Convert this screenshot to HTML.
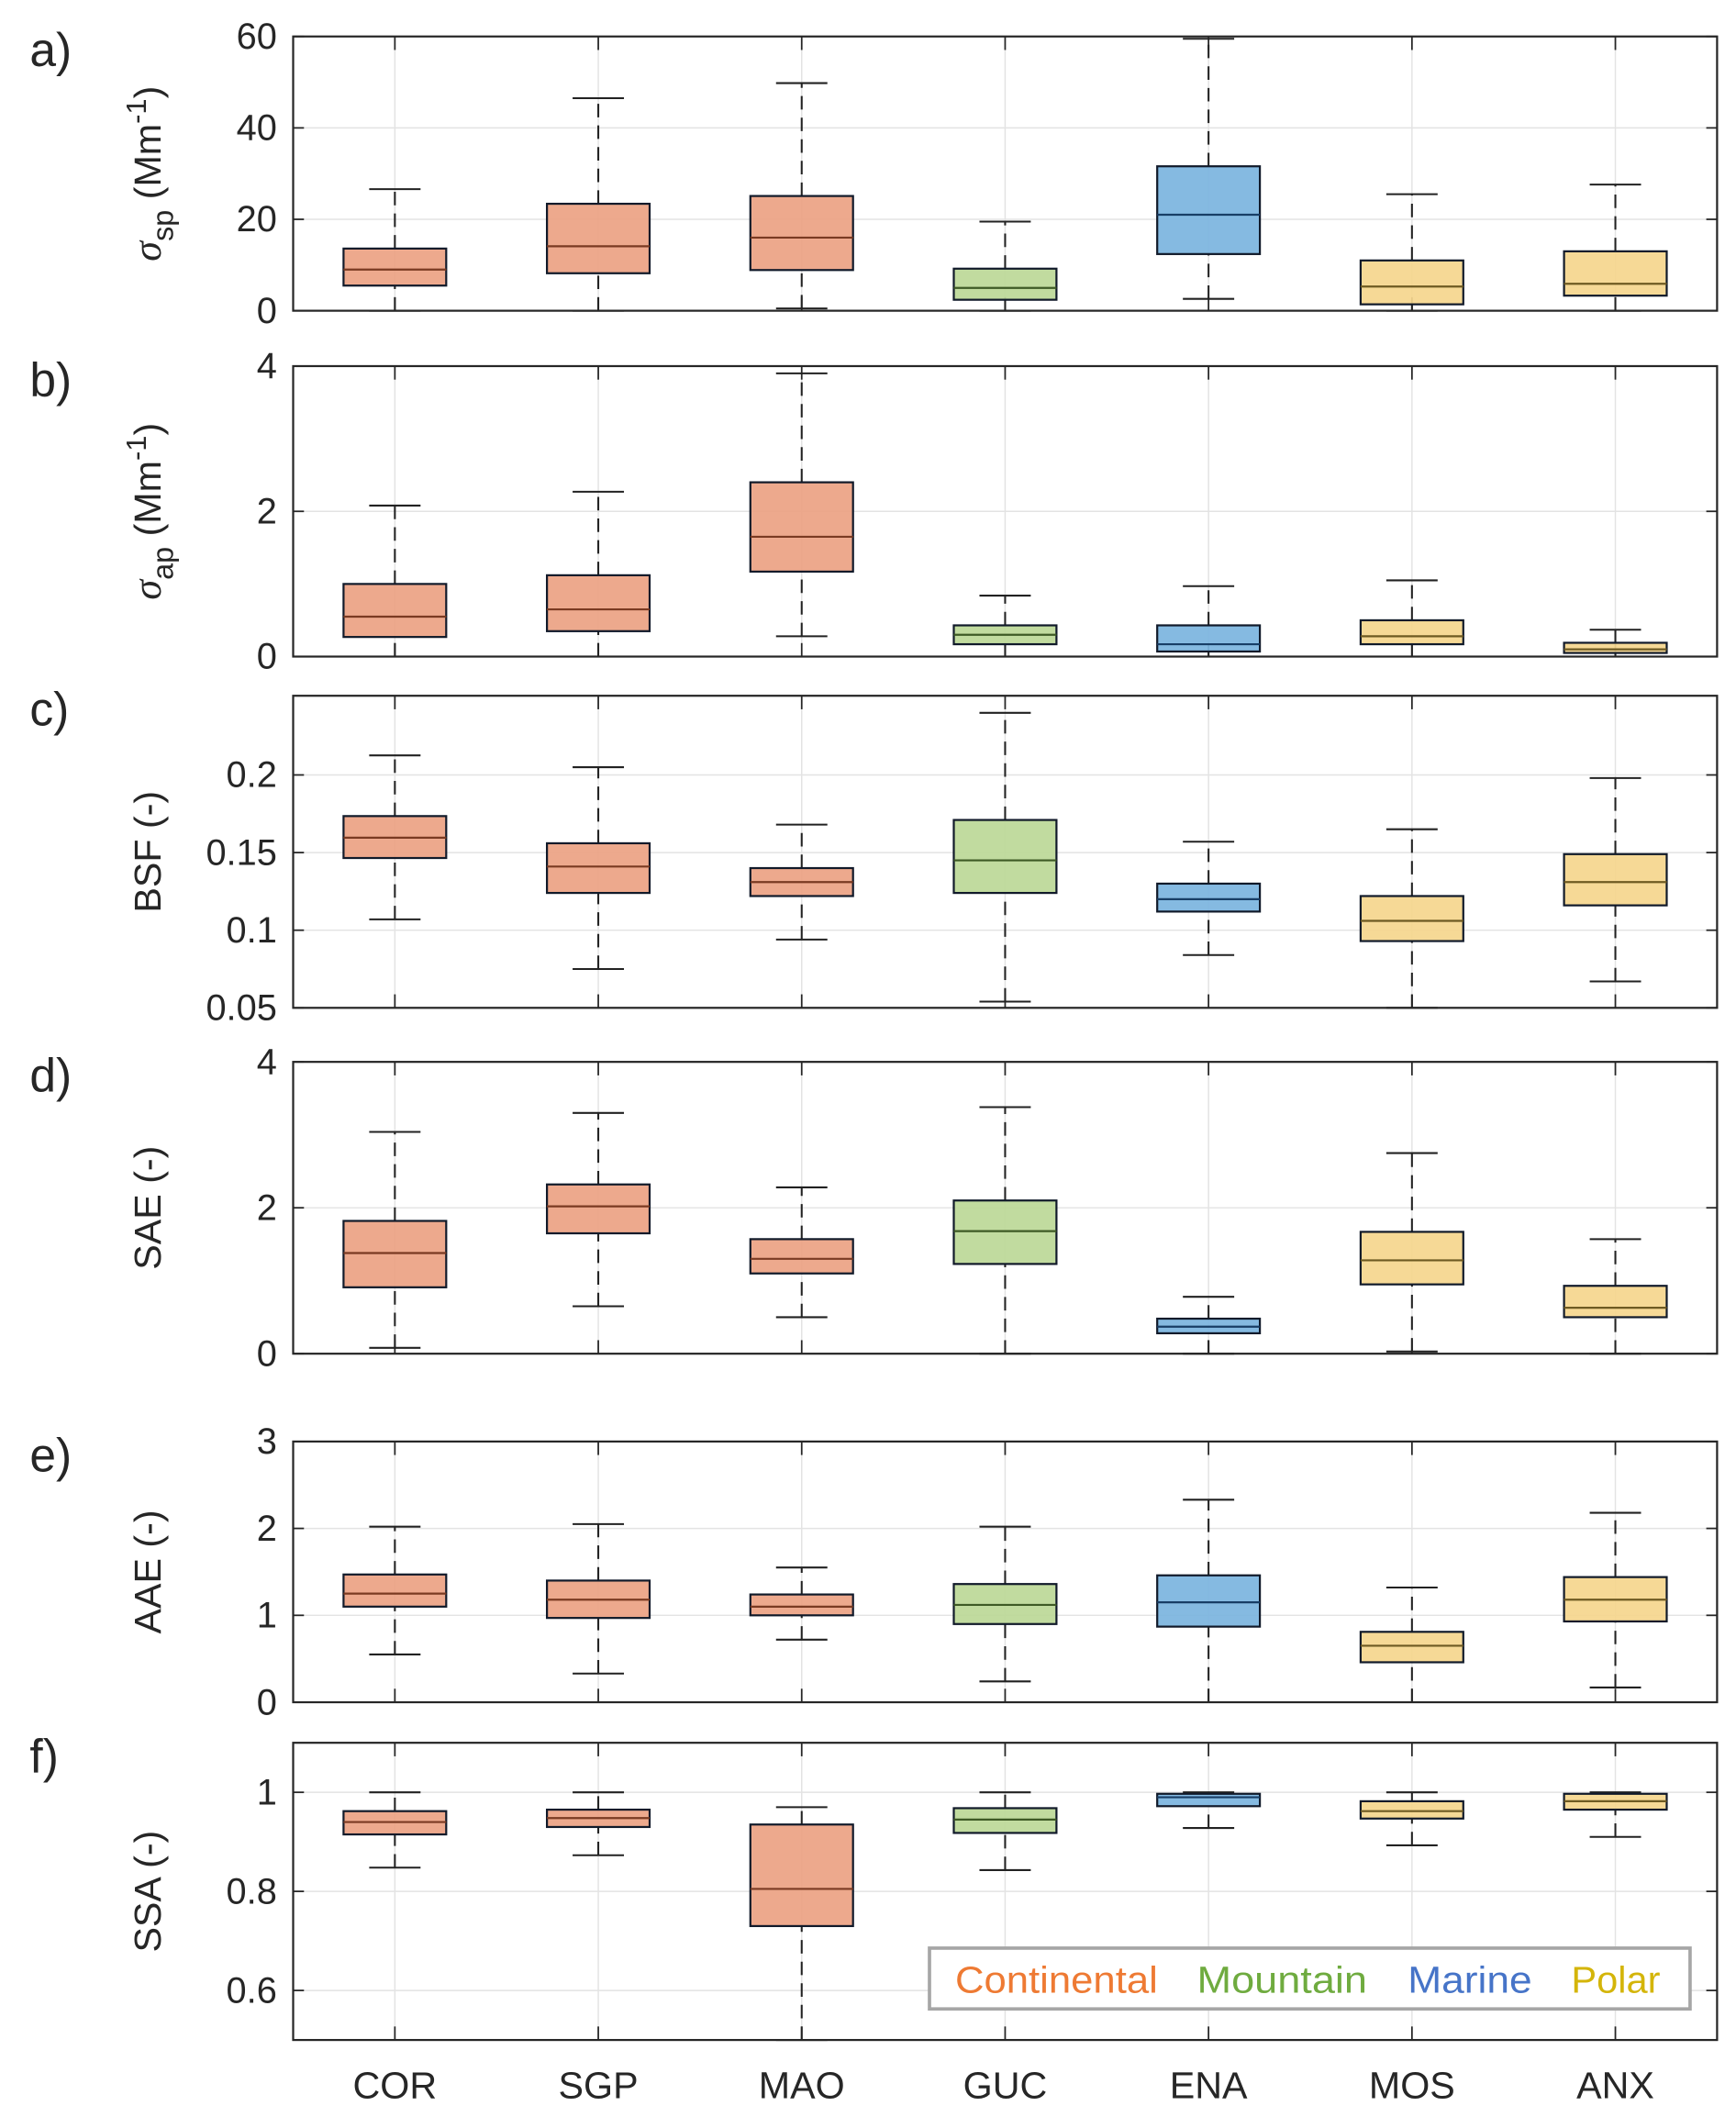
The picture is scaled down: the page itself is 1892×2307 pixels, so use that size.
<!DOCTYPE html>
<html><head><meta charset="utf-8"><style>
html,body{margin:0;padding:0;background:#fff}
svg{display:block}
text{font-family:"Liberation Sans",sans-serif;fill:#262626}
</style></head><body>
<svg id="chart" xmlns="http://www.w3.org/2000/svg" width="1892" height="2307" viewBox="0 0 1285 1567" preserveAspectRatio="none"></svg>
<script>
const categories = ["COR","SGP","MAO","GUC","ENA","MOS","ANX"];
const groups = ["Continental","Continental","Continental","Mountain","Marine","Polar","Polar"];
// each stat array: [whiskerLow, q1, median, q3, whiskerHigh] per category
const sspStats = [[0,5.5,9,13.6,26.6],[0,8.2,14.1,23.4,46.5],[0.5,8.9,16,25.1,49.8],[0,2.4,5,9.2,19.5],[2.6,12.4,21,31.6,59.5],[0,1.4,5.3,11,25.5],[0,3.3,5.9,13,27.6]];
const sapStats = [[0,0.27,0.55,1.0,2.08],[0,0.35,0.65,1.12,2.27],[0.28,1.17,1.65,2.4,3.9],[0,0.17,0.3,0.43,0.84],[0,0.07,0.17,0.43,0.97],[0,0.17,0.28,0.5,1.05],[0,0.05,0.1,0.19,0.37]];
const bsfStats = [[0.107,0.1465,0.1596,0.1735,0.2126],[0.075,0.124,0.141,0.156,0.205],[0.094,0.122,0.131,0.140,0.168],[0.054,0.124,0.145,0.171,0.240],[0.084,0.112,0.120,0.130,0.157],[0.05,0.093,0.106,0.122,0.165],[0.067,0.116,0.131,0.149,0.198]];
const saeStats = [[0.08,0.91,1.38,1.82,3.04],[0.65,1.65,2.02,2.32,3.3],[0.5,1.1,1.3,1.57,2.28],[0,1.23,1.68,2.1,3.38],[0,0.28,0.37,0.48,0.78],[0.03,0.95,1.28,1.67,2.75],[0,0.5,0.63,0.93,1.57]];
const aaeStats = [[0.55,1.1,1.25,1.47,2.02],[0.33,0.97,1.18,1.4,2.05],[0.72,1.0,1.1,1.24,1.55],[0.24,0.9,1.12,1.36,2.02],[0,0.87,1.15,1.46,2.33],[0,0.46,0.65,0.81,1.32],[0.17,0.93,1.18,1.44,2.18]];
const ssaStats = [[0.848,0.915,0.94,0.962,1.0],[0.873,0.93,0.948,0.965,1.0],[0.5,0.73,0.805,0.935,0.97],[0.843,0.918,0.945,0.968,1.0],[0.928,0.972,0.99,0.997,1.0],[0.893,0.947,0.962,0.982,1.0],[0.91,0.965,0.982,0.997,1.0]];
const sspTicks = [0,20,40,60];
const sapTicks = [0,2,4];
const bsfTicks = [0.05,0.1,0.15,0.2];
const saeTicks = [0,2,4];
const aaeTicks = [0,1,2,3];
const ssaTicks = [0.6,0.8,1];
const legendLabels = ["Continental","Mountain","Marine","Polar"];

const NS="http://www.w3.org/2000/svg";
const svg=document.getElementById('chart');
function mk(tag,attrs,parent){const e=document.createElementNS(NS,tag);for(const k in attrs)e.setAttribute(k,attrs[k]);(parent||svg).appendChild(e);return e;}
const fills={Continental:"#eca284",Mountain:"#bcd898",Marine:"#7cb5df",Polar:"#f5d68e"};
const meds={Continental:"#7a3a22",Mountain:"#3e5a25",Marine:"#183e66",Polar:"#6e5a22"};
const legendColors={Continental:"#ee7a33",Mountain:"#6fab3f",Marine:"#4674c8",Polar:"#d4b50a"};
const X0=217,X1=1271;
const step=(X1-X0)/categories.length;
function xs(i){return X0+step*(i+0.5);}

const panels=[
 {id:"a",stats:sspStats,ticks:sspTicks,lo:0,hi:60,top:27,bot:230,title:"sp"},
 {id:"b",stats:sapStats,ticks:sapTicks,lo:0,hi:4,top:271,bot:486,title:"ap"},
 {id:"c",stats:bsfStats,ticks:bsfTicks,lo:0.05,hi:0.251,top:515,bot:746,title:"BSF (-)"},
 {id:"d",stats:saeStats,ticks:saeTicks,lo:0,hi:4,top:786,bot:1002,title:"SAE (-)"},
 {id:"e",stats:aaeStats,ticks:aaeTicks,lo:0,hi:3,top:1067,bot:1260,title:"AAE (-)"},
 {id:"f",stats:ssaStats,ticks:ssaTicks,lo:0.5,hi:1.1,top:1290,bot:1510,title:"SSA (-)"}
];

panels.forEach((p,pi)=>{
  const g=mk('g',{});
  
  
  const ys=v=>p.bot-(v-p.lo)/(p.hi-p.lo)*(p.bot-p.top);
  categories.forEach((c,i)=>{
    const l=mk('line',{x1:xs(i),x2:xs(i),y1:p.top,y2:p.bot,stroke:"#e3e3e3","stroke-width":1},g);
    
    
  });
  p.ticks.forEach(t=>{
    const y=ys(t);
    const l=mk('line',{x1:X0,x2:X1,y1:y,y2:y,stroke:"#e3e3e3","stroke-width":1},g);
    
    
    mk('line',{x1:X0,x2:X0+8,y1:y,y2:y,stroke:"#262626","stroke-width":1.2},g);
    mk('line',{x1:X1-8,x2:X1,y1:y,y2:y,stroke:"#262626","stroke-width":1.2},g);
    const tx=mk('text',{x:205,y:y+9,"text-anchor":"end","font-size":27},g);
    tx.textContent=String(t);
    
    
  });
  categories.forEach((c,i)=>{
    mk('line',{x1:xs(i),x2:xs(i),y1:p.bot,y2:p.bot-10,stroke:"#262626","stroke-width":1.2},g);
    mk('line',{x1:xs(i),x2:xs(i),y1:p.top,y2:p.top+10,stroke:"#262626","stroke-width":1.2},g);
  });
  p.stats.forEach((s,i)=>{
    const grp=groups[i], x=xs(i), hw=38, cw=19;
    const bg=mk('g',{},g);
    
    
    mk('line',{x1:x,x2:x,y1:ys(s[0]),y2:ys(s[1]),stroke:"#222","stroke-width":1.4,"stroke-dasharray":"10 6"},bg);
    mk('line',{x1:x,x2:x,y1:ys(s[3]),y2:ys(s[4]),stroke:"#222","stroke-width":1.4,"stroke-dasharray":"10 6"},bg);
    mk('line',{x1:x-cw,x2:x+cw,y1:ys(s[0]),y2:ys(s[0]),stroke:"#222","stroke-width":1.4},bg);
    mk('line',{x1:x-cw,x2:x+cw,y1:ys(s[4]),y2:ys(s[4]),stroke:"#222","stroke-width":1.4},bg);
    mk('rect',{x:x-hw,y:ys(s[3]),width:2*hw,height:Math.max(1,ys(s[1])-ys(s[3])),fill:fills[grp],"fill-opacity":0.93,stroke:"#111a2a","stroke-width":1.5},bg);
    mk('line',{x1:x-hw,x2:x+hw,y1:ys(s[2]),y2:ys(s[2]),stroke:meds[grp],"stroke-width":1.5},bg);
  });
  const fr=mk('rect',{x:X0,y:p.top,width:X1-X0,height:p.bot-p.top,fill:"none",stroke:"#262626","stroke-width":1.5},g);
  
  
  const pl=mk('text',{x:22,y:p.top+22,"font-size":35},g);
  pl.textContent=p.id+")";
  
  
  const cy=(p.top+p.bot)/2;
  const yt=mk('text',{transform:`translate(119 ${cy}) rotate(-90)`,"text-anchor":"middle","font-size":28},g);
  
  
  if(p.title==="sp"||p.title==="ap"){
    yt.innerHTML=`<tspan font-family="Liberation Serif" font-style="italic" font-size="30">σ</tspan><tspan dy="9" font-size="22">${p.title}</tspan><tspan dy="-9"> (Mm</tspan><tspan dy="-11" font-size="21">-1</tspan><tspan dy="11">)</tspan>`;
  } else yt.textContent=p.title;
});

categories.forEach((c,i)=>{
  const t=mk('text',{x:xs(i),y:1553,"text-anchor":"middle","font-size":28});
  t.textContent=c;
  
  
});

const lg=mk('g',{});


mk('rect',{x:688,y:1442,width:563,height:45,fill:"#fff",stroke:"#a6a6a6","stroke-width":2.5},lg);
const lx=[707,886,1042,1163];
const lw=[150,126,92,66];
legendLabels.forEach((l,i)=>{
  const t=mk('text',{x:lx[i],y:1475,"font-size":28,textLength:lw[i],lengthAdjust:"spacingAndGlyphs",style:"fill:"+legendColors[l]},lg);
  t.textContent=l;
  
  
});
</script>
</body></html>
